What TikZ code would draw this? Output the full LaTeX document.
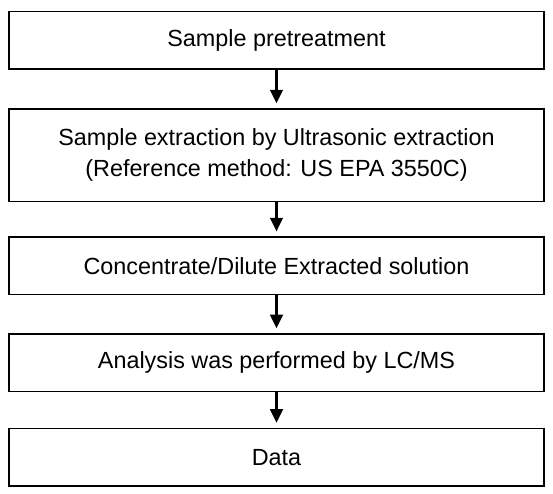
\documentclass[tikz,border=0pt]{standalone}
\usepackage{fontspec}
\setmainfont{Liberation Sans}
\usetikzlibrary{arrows.meta}

\tikzset{
  stepbox/.style={draw=black, line width=1.6pt, fill=white,
    minimum width=550pt, minimum height=59pt, inner sep=0pt,
    align=center, font=\fontsize{24}{32}\selectfont},
  flow/.style={line width=2.6pt, shorten >=5pt,
    -{Triangle[width=13pt,length=14pt]}}
}

\begin{document}
\begin{tikzpicture}[x=1pt, y=-1pt]
  \useasboundingbox (0,0) rectangle (568,507.4);

  \node[stepbox] (s1) at (284,41.5) {Sample pretreatment};
  \node[stepbox, minimum height=95pt] (s2) at (284,159.5)
    {Sample extraction by Ultrasonic extraction\\(Reference method: US EPA 3550C)};
  \node[stepbox] (s3) at (284,273) {Concentrate/Dilute Extracted solution};
  \node[stepbox] (s4) at (284,372.5) {Analysis was performed by LC/MS};
  \node[stepbox] (s5) at (284,469.5) {Data};

  \draw[flow] (s1.south) -- (s2.north);
  \draw[flow] (s2.south) -- (s3.north);
  \draw[flow] (s3.south) -- (s4.north);
  \draw[flow] (s4.south) -- (s5.north);
\end{tikzpicture}
\end{document}
